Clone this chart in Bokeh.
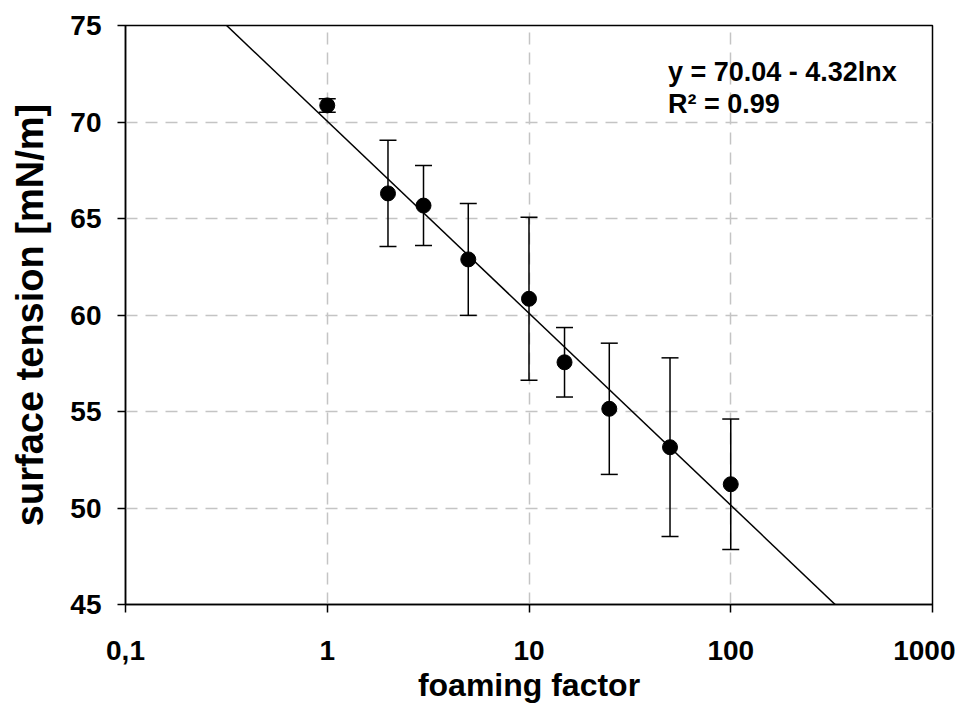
import numpy as np
from bokeh.plotting import figure
from bokeh.models import (FixedTicker, CustomJSTickFormatter, Whisker, ColumnDataSource,
                          Label, Range1d)
from bokeh.embed import file_html
from bokeh.resources import INLINE

# data
foaming_factor = [1, 2, 3, 5, 10, 15, 25, 50, 100]
surface_tension = [70.86, 66.30, 65.67, 62.88, 60.84, 57.55, 55.14, 53.15, 51.23]
error = [0.35, 2.75, 2.07, 2.90, 4.22, 1.80, 3.40, 4.63, 3.38]
x_ticks = [0.1, 1, 10, 100, 1000]
y_ticks = [45, 50, 55, 60, 65, 70, 75]
fit_a = 70.04
fit_b = 4.32
eq_text = "y = 70.04 - 4.32lnx"
r2_text = "R\u00b2 = 0.99"
x_title = "foaming factor"
y_title = "surface tension [mN/m]"

FONT = "Liberation Sans"

p = figure(width=955, height=711, x_axis_type="log",
           x_range=Range1d(0.1, 1000), y_range=Range1d(45, 75),
           output_backend="svg", toolbar_location=None,
           min_border_left=125, min_border_right=23, min_border_top=25, min_border_bottom=107)

p.outline_line_color = "black"
p.outline_line_width = 1.5
p.background_fill_color = "white"
p.border_fill_color = "white"

for ax in (p.xaxis[0], p.yaxis[0]):
    ax.axis_line_color = "black"
    ax.axis_line_width = 1.5
    ax.major_tick_line_color = "black"
    ax.major_tick_line_width = 1.5
    ax.major_tick_in = 0
    ax.major_tick_out = 8
    ax.minor_tick_line_color = None
    ax.major_label_text_font = FONT
    ax.major_label_text_font_style = "bold"
    ax.major_label_text_font_size = "28px"
    ax.major_label_text_color = "black"
    ax.axis_label_text_font = FONT
    ax.axis_label_text_font_style = "bold"
    ax.axis_label_text_color = "black"

p.xaxis.ticker = FixedTicker(ticks=x_ticks)
p.xaxis.formatter = CustomJSTickFormatter(code="""
    if (tick < 1) { return tick.toString().replace('.', ','); }
    return Math.round(tick).toString();
""")
p.yaxis.ticker = FixedTicker(ticks=y_ticks)
p.xaxis.axis_label = x_title
p.yaxis.axis_label = y_title
p.xaxis.axis_label_text_font_size = "32px"
p.yaxis.axis_label_text_font_size = "38px"
p.xaxis.major_label_standoff = 28
p.yaxis.major_label_standoff = 16
p.xaxis.axis_label_standoff = 4
p.yaxis.axis_label_standoff = 16

for g in (p.xgrid[0], p.ygrid[0]):
    g.grid_line_color = "#c4c4c4"
    g.grid_line_width = 1.5
    g.grid_line_dash = "12 8"

# trend line from fit coefficients
fx = np.array([0.1, 1000.0])
fy = fit_a - fit_b * np.log(fx)
p.line(fx, fy, line_color="black", line_width=1.5)

src = ColumnDataSource(dict(
    x=foaming_factor, y=surface_tension,
    upper=[v + e for v, e in zip(surface_tension, error)],
    lower=[v - e for v, e in zip(surface_tension, error)],
))
w = Whisker(source=src, base="x", upper="upper", lower="lower", dimension="height",
            line_color="black", line_width=1.5)
w.upper_head.size = 17
w.lower_head.size = 17
w.upper_head.line_color = "black"
w.lower_head.line_color = "black"
w.upper_head.line_width = 1.5
w.lower_head.line_width = 1.5
p.add_layout(w)

p.scatter("x", "y", source=src, size=15, fill_color="black", line_color="black")

p.add_layout(Label(x=48.8, y=73.35, text=eq_text, text_font=FONT, text_font_style="bold",
                   text_font_size="27px", text_baseline="top", text_color="black"))
p.add_layout(Label(x=48.8, y=71.7, text=r2_text, text_font=FONT, text_font_style="bold",
                   text_font_size="27px", text_baseline="top", text_color="black"))

open("out.html", "w").write(file_html(p, INLINE))
